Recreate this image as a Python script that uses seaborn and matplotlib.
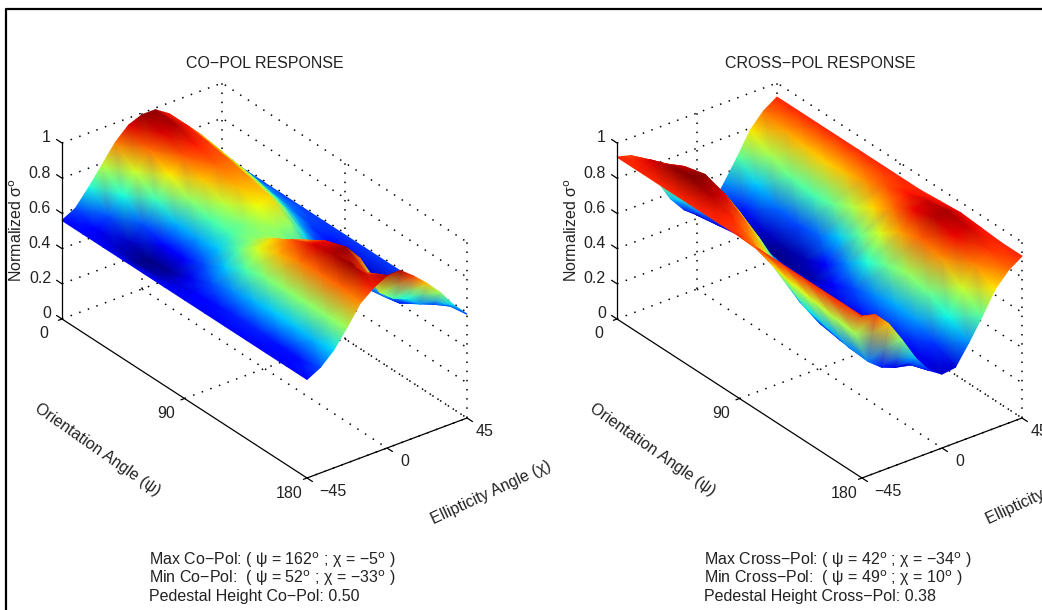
import numpy as np
import seaborn as sns
import matplotlib
matplotlib.use('Agg')
import matplotlib.pyplot as plt

sns.set_style("white")
plt.rcParams['font.family'] = ['Liberation Sans', 'DejaVu Sans']
plt.rcParams['mathtext.default'] = 'regular'

psi = [0, 15, 30, 45, 60, 75, 90, 105, 120, 135, 150, 165, 180]
chi = [-45, -37.5, -30, -22.5, -15, -7.5, 0, 7.5, 15, 22.5, 30, 37.5, 45]

# one row per chi, one column per psi
co_pol = [
    [.56, .56, .56, .56, .56, .56, .56, .56, .56, .56, .56, .56, .56],
    [.60, .56, .53, .51, .52, .54, .56, .57, .58, .58, .57, .57, .60],
    [.69, .60, .53, .50, .51, .55, .60, .63, .65, .66, .66, .65, .67],
    [.79, .69, .60, .56, .56, .60, .66, .72, .75, .76, .76, .76, .77],
    [.89, .80, .71, .65, .64, .66, .73, .81, .86, .89, .90, .90, .88],
    [.96, .90, .83, .76, .72, .72, .76, .84, .91, .96, .98, .99, .94],
    [.99, .96, .91, .85, .79, .75, .76, .80, .88, .95, .99, .92, .98],
    [.99, .98, .94, .90, .86, .82, .76, .72, .78, .85, .90, .78, .98],
    [.94, .94, .92, .90, .87, .84, .76, .66, .67, .71, .74, .72, .92],
    [.86, .86, .84, .82, .79, .75, .67, .60, .58, .60, .62, .69, .85],
    [.78, .77, .75, .73, .70, .65, .59, .55, .54, .54, .56, .63, .77],
    [.67, .67, .66, .64, .62, .59, .56, .54, .53, .53, .54, .60, .67],
    [.59, .59, .59, .59, .59, .59, .59, .59, .59, .59, .59, .59, .59],
]
cross_pol = [
    [.92, .92, .92, .92, .92, .92, .92, .92, .92, .92, .92, .92, .92],
    [.90, .95, .99, 1.0, .97, .92, .86, .80, .77, .75, .73, .72, .90],
    [.82, .90, .96, .99, .95, .87, .77, .67, .60, .57, .54, .53, .82],
    [.70, .79, .85, .87, .83, .75, .64, .54, .49, .47, .46, .47, .70],
    [.57, .64, .68, .69, .66, .61, .53, .47, .44, .43, .43, .44, .57],
    [.48, .53, .56, .56, .55, .52, .46, .42, .42, .42, .42, .43, .47],
    [.42, .44, .46, .46, .46, .44, .42, .44, .46, .47, .47, .44, .42],
    [.43, .41, .39, .38, .39, .40, .45, .50, .54, .56, .55, .49, .43],
    [.54, .47, .42, .40, .41, .46, .54, .62, .68, .71, .68, .61, .54],
    [.66, .58, .52, .50, .52, .58, .67, .76, .84, .88, .85, .75, .66],
    [.79, .72, .67, .65, .67, .73, .80, .87, .94, .97, .94, .86, .79],
    [.87, .84, .82, .81, .82, .85, .89, .93, .96, .98, .96, .91, .87],
    [.92, .92, .92, .92, .92, .92, .92, .92, .93, .94, .93, .92, .92],
]

z_ticks = [0, 0.2, 0.4, 0.6, 0.8, 1]
z_labels = ['0', '0.2', '0.4', '0.6', '0.8', '1']
psi_ticks = [0, 90, 180]
chi_ticks = [-45, 0, 45]
chi_labels = ['\u221245', '0', '45']

SUP = r'$^{\rm o}$'
co_text = ['Max Co\u2212Pol: ( \u03c8 = 162' + SUP + ' ; \u03c7 = \u22125' + SUP + ' )',
           'Min Co\u2212Pol:  ( \u03c8 = 52' + SUP + ' ; \u03c7 = \u221233' + SUP + ' )',
           'Pedestal Height Co\u2212Pol: 0.50']
cross_text = ['Max Cross\u2212Pol: ( \u03c8 = 42' + SUP + ' ; \u03c7 = \u221234' + SUP + ' )',
              'Min Cross\u2212Pol:  ( \u03c8 = 49' + SUP + ' ; \u03c7 = 10' + SUP + ' )',
              'Pedestal Height Cross\u2212Pol: 0.38']

fs = 11.5


def panel(ax, x0, values, title, notes, vmin):
    # parallel projection of the box, in pixels of the figure
    def proj(p, c, z):
        t = np.asarray(p) / 180
        s = (np.asarray(c) + 45) / 90
        return x0 + 245 * t + 160 * s, 319 + 159 * t - 60 * s - 176 * np.asarray(z)

    dots = dict(color='k', lw=1.1, ls=(0, (1, 5)), zorder=1)
    # walls and floor
    for z in z_ticks:
        ax.plot(*proj([0, 0, 180], [-45, 45, 45], [z, z, z]), **dots)
    for c in chi_ticks[1:]:
        ax.plot(*proj([0, 0], [c, c], [0, 1]), **dots)
        ax.plot(*proj([0, 180], [c, c], [0, 0]), **dots)
    for p in psi_ticks[1:]:
        ax.plot(*proj([p, p], [45, 45], [0, 1]), **dots)
        ax.plot(*proj([p, p], [-45, 45], [0, 0]), **dots)

    # surface, far corner first so the near part paints over it
    P, C = np.meshgrid(psi, chi[::-1])
    X, Y = proj(P, C, np.array(values)[::-1])
    ax.pcolormesh(X, Y, np.array(values)[::-1], shading='gouraud', cmap='jet',
                  vmin=vmin, vmax=1, zorder=2)

    # solid axes and ticks
    solid = dict(color='k', lw=0.9, zorder=3)
    ax.plot(*proj([0, 0], [-45, -45], [0, 1]), **solid)
    ax.plot(*proj([0, 180, 180], [-45, -45, 45], [0, 0, 0]), **solid)
    for z, lab in zip(z_ticks, z_labels):
        ax.plot(*proj([0, -4], [-45, -45], [z, z]), **solid)
        x, y = proj(0, -45, z)
        ax.text(x - 11, y - 5, lab, ha='right', va='center', fontsize=fs, color='#222222')
    for p in psi_ticks:
        ax.plot(*proj([p, p], [-45, -47], [0, 0]), **solid)
        x, y = proj(p, -45, 0)
        ax.text(x - 18, y + 15, str(p), ha='center', va='center', fontsize=fs, color='#222222')
    for c, lab in zip(chi_ticks, chi_labels):
        ax.plot(*proj([180, 184], [c, c], [0, 0]), **solid)
        x, y = proj(180, c, 0)
        ax.text(x + 26 if c < 0 else x + 18, y + 13, lab, ha='center', va='center', fontsize=fs, color='#222222')

    ax.text(x0 + 203, 64, title, ha='center', va='center', fontsize=fs, color='#222222')
    ax.text(x0 - 45, 230, r'Normalized $\sigma^{\rm o}$', rotation=90, ha='center', va='center',
            fontsize=fs, color='#222222')
    ax.text(x0 + 36, 450, 'Orientation Angle (\u03c8)', rotation=-35, ha='center', va='center',
            fontsize=fs, color='#222222')
    ax.text(x0 + 429, 493, 'Ellipticity Angle (\u03c7)', rotation=25, ha='center', va='center',
            fontsize=fs, color='#222222')
    for y, line in zip([560, 578, 597], notes):
        ax.text(x0 + 87, y, line, ha='left', va='center', fontsize=fs, color='#222222')


fig = plt.figure(figsize=(10.42, 6.10), dpi=100)
ax = fig.add_axes([0, 0, 1, 1])
ax.set_xlim(0, 1042)
ax.set_ylim(610, 0)
ax.axis('off')

panel(ax, 62, co_pol, 'CO\u2212POL RESPONSE', co_text, 0.5)
panel(ax, 617, cross_pol, 'CROSS\u2212POL RESPONSE', cross_text, 0.38)

# picture frame, top and left only
ax.plot([6, 6, 1042], [610, 9, 9], color='k', lw=1.6, zorder=4)

fig.savefig('out.png', dpi=100)
